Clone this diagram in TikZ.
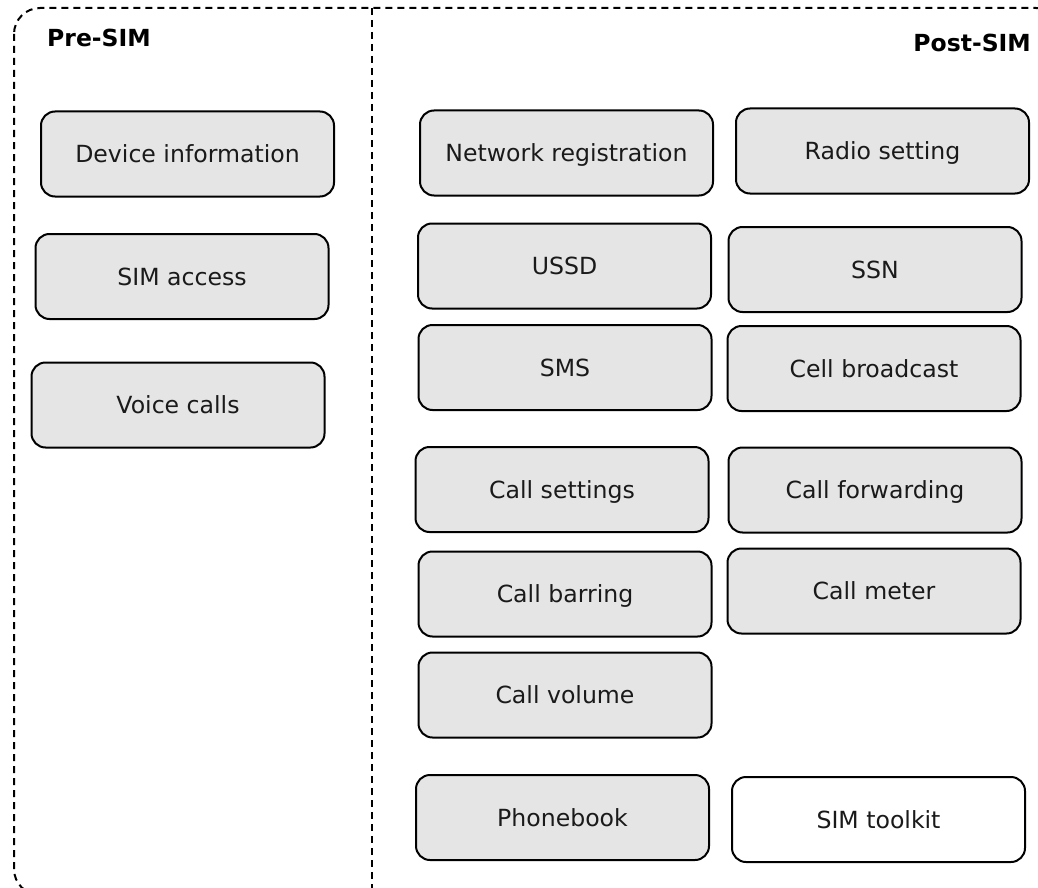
\documentclass[tikz,border=0pt]{standalone}
\usepackage{fontspec}
\setmainfont{DejaVu Sans}
\definecolor{boxfill}{HTML}{E5E5E5}
\definecolor{txt}{HTML}{1A1A1A}
\tikzset{
  fbox/.style={draw=black, line width=2pt, rounded corners=14pt, fill=boxfill,
    minimum width=293pt, minimum height=85pt, inner sep=0pt,
    text height=17pt, text depth=0pt, text=txt,
    font=\fontsize{23.6pt}{28pt}\selectfont},
  wbox/.style={fbox, fill=white},
  region/.style={line width=2pt, dash pattern=on 7pt off 5pt},
  title/.style={font=\fontsize{23.5pt}{28pt}\selectfont\bfseries, inner sep=0pt, text=black}
}
\begin{document}
\begin{tikzpicture}[x=1pt,y=-1pt]
\useasboundingbox (0,0) rectangle (1038,888);
\begin{scope}
\clip (0,0) rectangle (1038,888);
\draw[region, rounded corners=26pt] (14,8) rectangle (1062,895);
\coordinate (dtop) at (372,8);
\coordinate (dbot) at (372,888);
\draw[region] (dtop) -- (dbot);
\end{scope}
\node[title, anchor=base west] (pre) at (47,46.6) {Pre-SIM};
\node[title, anchor=base east] (post) at (1031,51.6) {Post-SIM};
% Pre-SIM
\node[fbox] (dev) at (187.5,154) {Device information};
\node[fbox] (sim) at (182,276.5) {SIM access};
\node[fbox] (voice) at (178,405) {Voice calls};
% Post-SIM
\node[fbox] (netreg) at (566.5,153) {Network registration};
\node[fbox] (radio) at (882.5,151) {Radio setting};
\node[fbox] (ussd) at (564.5,266) {USSD};
\node[fbox] (ssn) at (875,269.5) {SSN};
\node[fbox] (sms) at (565,367.5) {SMS};
\node[fbox] (cellb) at (874,368.5) {Cell broadcast};
\node[fbox] (callset) at (562,489.5) {Call settings};
\node[fbox] (callfwd) at (875,490) {Call forwarding};
\node[fbox] (callbar) at (565,594) {Call barring};
\node[fbox] (callmeter) at (874,591) {Call meter};
\node[fbox] (callvol) at (565,695) {Call volume};
\node[fbox] (phone) at (562.5,817.5) {Phonebook};
\node[wbox] (simtk) at (878.5,819.5) {SIM toolkit};
\end{tikzpicture}
\end{document}
